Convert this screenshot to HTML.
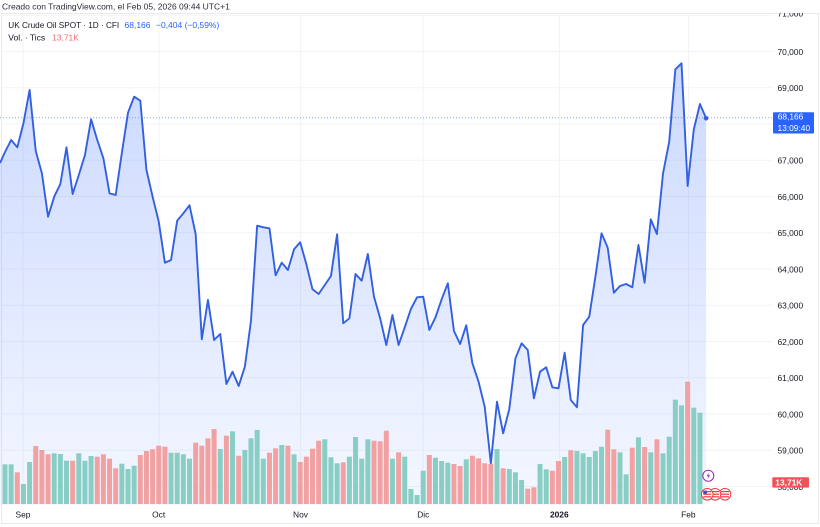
<!DOCTYPE html>
<html><head><meta charset="utf-8"><style>
html,body{margin:0;padding:0;background:#fff;}
svg{display:block;font-family:"Liberation Sans",Arial,sans-serif;}
</style></head><body>
<svg width="820" height="527" viewBox="0 0 820 527" xmlns="http://www.w3.org/2000/svg">
<defs>
<linearGradient id="ag" gradientUnits="userSpaceOnUse" x1="0" y1="63" x2="0" y2="505">
<stop offset="0" stop-color="#2962FF" stop-opacity="0.24"/>
<stop offset="1" stop-color="#2962FF" stop-opacity="0.05"/>
</linearGradient>
<clipPath id="cp"><rect x="0" y="13" width="820" height="511"/></clipPath>
</defs>
<rect width="820" height="527" fill="#fff"/>
<text x="2" y="9.3" font-size="8.5" fill="#2a2e39">Creado con TradingView.com, el Feb 05, 2026 09:44 UTC+1</text>
<rect x="1.5" y="13.5" width="817" height="510" fill="none" stroke="#e9ebf0" stroke-width="1"/>
<g clip-path="url(#cp)">
<g stroke="#f1f3f8" stroke-width="1">
<line x1="2" x2="772" y1="15.25" y2="15.25"/><line x1="2" x2="772" y1="51.5" y2="51.5"/>
<line x1="2" x2="772" y1="87.75" y2="87.75"/><line x1="2" x2="772" y1="124" y2="124"/>
<line x1="2" x2="772" y1="160.25" y2="160.25"/><line x1="2" x2="772" y1="196.5" y2="196.5"/>
<line x1="2" x2="772" y1="232.75" y2="232.75"/><line x1="2" x2="772" y1="269" y2="269"/>
<line x1="2" x2="772" y1="305.25" y2="305.25"/><line x1="2" x2="772" y1="341.5" y2="341.5"/>
<line x1="2" x2="772" y1="377.75" y2="377.75"/><line x1="2" x2="772" y1="414" y2="414"/>
<line x1="2" x2="772" y1="450.25" y2="450.25"/><line x1="2" x2="772" y1="486.5" y2="486.5"/>
<line x1="23" x2="23" y1="14" y2="505"/><line x1="159" x2="159" y1="14" y2="505"/>
<line x1="300.5" x2="300.5" y1="14" y2="505"/><line x1="423" x2="423" y1="14" y2="505"/>
<line x1="559.5" x2="559.5" y1="14" y2="505"/><line x1="688.5" x2="688.5" y1="14" y2="505"/>
</g>
<polygon fill="url(#ag)" points="0,163 5,152 11.15,140 17.3,147.3 23.45,123.3 29.6,90 35.75,151 41.9,173.3 48.05,216.7 54.2,196.7 60.35,184 66.5,147.3 72.65,194 78.8,175 84.95,155 91.1,119.3 97.25,140 103.4,158.3 109.55,193.3 115.7,195 121.85,153 128,112.7 134.15,96.7 140.3,100.7 146.45,170 152.6,196.7 158.75,221.7 164.9,262.7 171.05,260 177.2,220.7 183.35,213.3 189.5,205.3 195.65,234 201.8,339.3 207.95,300 214.1,340 220.25,334 226.4,384 232.55,371.7 238.7,386 244.85,366.7 251,320.7 257.15,225.7 263.3,227.3 269.45,228.3 275.6,275.3 281.75,262.7 287.9,270 294.05,249.3 300.2,242.3 306.35,264.3 312.5,289.3 318.65,294 324.8,285 330.95,276 337.1,234.3 343.25,323.3 349.4,318.3 355.55,274 361.7,280.7 367.85,254 374,296.7 380.15,318.3 386.3,345 392.45,315 398.6,345 404.75,327.3 410.9,309 417.05,297.3 423.2,296.7 429.35,330 435.5,317.3 441.65,299.3 447.8,283.3 453.95,331 460.1,344 466.25,325.3 472.4,363.3 478.55,381.7 484.7,406.7 490.85,463.3 497,401.7 503.15,433.3 509.3,409 515.45,358.3 521.6,343.3 527.75,350 533.9,398.3 540.05,371.7 546.2,367.3 552.35,387.3 558.5,388.3 564.65,352.7 570.8,400 576.95,407.3 583.1,325 589.25,316.7 595.4,276.7 601.55,233.3 607.7,247.7 613.85,292.7 620,286 626.15,284 632.3,287.3 638.45,245 644.6,282.7 650.75,219.3 656.9,234 663.05,173.3 669.2,141.7 675.35,69.3 681.5,63.3 687.65,186 693.8,129.3 699.95,104 706.1,118.3 706.1,505 0,505"/>
<g fill="#88cec5">
<rect x="2.5" y="464.3" width="5" height="39.7"/><rect x="8.65" y="464.3" width="5" height="39.7"/>
<rect x="20.95" y="484" width="5" height="20"/><rect x="27.1" y="462" width="5" height="42"/>
<rect x="51.7" y="453.3" width="5" height="50.7"/><rect x="57.85" y="454" width="5" height="50"/>
<rect x="64" y="460.7" width="5" height="43.3"/><rect x="76.3" y="453.3" width="5" height="50.7"/>
<rect x="82.45" y="460.7" width="5" height="43.3"/><rect x="88.6" y="456" width="5" height="48"/>
<rect x="119.35" y="463.7" width="5" height="40.3"/><rect x="125.5" y="469" width="5" height="35"/>
<rect x="131.65" y="465.7" width="5" height="38.3"/><rect x="168.55" y="452.7" width="5" height="51.3"/>
<rect x="174.7" y="452.7" width="5" height="51.3"/><rect x="180.85" y="454.3" width="5" height="49.7"/>
<rect x="187" y="458.7" width="5" height="45.3"/><rect x="217.75" y="449" width="5" height="55"/>
<rect x="230.05" y="431.3" width="5" height="72.7"/><rect x="242.35" y="450" width="5" height="54"/>
<rect x="248.5" y="438.3" width="5" height="65.7"/><rect x="254.65" y="430" width="5" height="74"/>
<rect x="260.8" y="458.7" width="5" height="45.3"/><rect x="279.25" y="445" width="5" height="59"/>
<rect x="291.55" y="454.3" width="5" height="49.7"/><rect x="322.3" y="439.3" width="5" height="64.7"/>
<rect x="328.45" y="457.3" width="5" height="46.7"/><rect x="334.6" y="463.3" width="5" height="40.7"/>
<rect x="346.9" y="456.7" width="5" height="47.3"/><rect x="353.05" y="437" width="5" height="67"/>
<rect x="359.2" y="458.7" width="5" height="45.3"/><rect x="365.35" y="439.3" width="5" height="64.7"/>
<rect x="389.95" y="458.7" width="5" height="45.3"/><rect x="402.25" y="456.7" width="5" height="47.3"/>
<rect x="408.4" y="489" width="5" height="15"/><rect x="414.55" y="495" width="5" height="9"/>
<rect x="420.7" y="470.7" width="5" height="33.3"/><rect x="433" y="457.7" width="5" height="46.3"/>
<rect x="439.15" y="461" width="5" height="43"/><rect x="445.3" y="462.7" width="5" height="41.3"/>
<rect x="463.75" y="459.3" width="5" height="44.7"/><rect x="494.5" y="449" width="5" height="55"/>
<rect x="506.8" y="469" width="5" height="35"/><rect x="512.95" y="472.3" width="5" height="31.7"/>
<rect x="519.1" y="480" width="5" height="24"/><rect x="537.55" y="464" width="5" height="40"/>
<rect x="543.7" y="469.3" width="5" height="34.7"/><rect x="562.15" y="457" width="5" height="47"/>
<rect x="574.45" y="451" width="5" height="53"/><rect x="580.6" y="453.3" width="5" height="50.7"/>
<rect x="586.75" y="457" width="5" height="47"/><rect x="592.9" y="451" width="5" height="53"/>
<rect x="599.05" y="446.7" width="5" height="57.3"/><rect x="617.5" y="452.3" width="5" height="51.7"/>
<rect x="623.65" y="474.3" width="5" height="29.7"/><rect x="635.95" y="437.3" width="5" height="66.7"/>
<rect x="648.25" y="452.3" width="5" height="51.7"/><rect x="660.55" y="453.3" width="5" height="50.7"/>
<rect x="666.7" y="436.7" width="5" height="67.3"/><rect x="672.85" y="399.7" width="5" height="104.3"/>
<rect x="679" y="405.3" width="5" height="98.7"/><rect x="691.3" y="407.7" width="5" height="96.3"/>
<rect x="697.45" y="412.7" width="5" height="91.3"/>
</g>
<g fill="#f2a1a3">
<rect x="14.8" y="472.3" width="5" height="31.7"/><rect x="33.25" y="446" width="5" height="58"/>
<rect x="39.4" y="450" width="5" height="54"/><rect x="45.55" y="454.3" width="5" height="49.7"/>
<rect x="70.15" y="460.7" width="5" height="43.3"/><rect x="94.75" y="456.7" width="5" height="47.3"/>
<rect x="100.9" y="454.3" width="5" height="49.7"/><rect x="107.05" y="458.7" width="5" height="45.3"/>
<rect x="113.2" y="468.3" width="5" height="35.7"/><rect x="137.8" y="455" width="5" height="49"/>
<rect x="143.95" y="451" width="5" height="53"/><rect x="150.1" y="449.3" width="5" height="54.7"/>
<rect x="156.25" y="445.7" width="5" height="58.3"/><rect x="162.4" y="446.7" width="5" height="57.3"/>
<rect x="193.15" y="442.7" width="5" height="61.3"/><rect x="199.3" y="445.7" width="5" height="58.3"/>
<rect x="205.45" y="438.3" width="5" height="65.7"/><rect x="211.6" y="429" width="5" height="75"/>
<rect x="223.9" y="435.7" width="5" height="68.3"/><rect x="236.2" y="455.7" width="5" height="48.3"/>
<rect x="266.95" y="452.7" width="5" height="51.3"/><rect x="273.1" y="448.3" width="5" height="55.7"/>
<rect x="285.4" y="445.7" width="5" height="58.3"/><rect x="297.7" y="462" width="5" height="42"/>
<rect x="303.85" y="456.7" width="5" height="47.3"/><rect x="310" y="448.7" width="5" height="55.3"/>
<rect x="316.15" y="440.7" width="5" height="63.3"/><rect x="340.75" y="462.3" width="5" height="41.7"/>
<rect x="371.5" y="440.7" width="5" height="63.3"/><rect x="377.65" y="441.3" width="5" height="62.7"/>
<rect x="383.8" y="430.7" width="5" height="73.3"/><rect x="396.1" y="452.3" width="5" height="51.7"/>
<rect x="426.85" y="455" width="5" height="49"/><rect x="451.45" y="464" width="5" height="40"/>
<rect x="457.6" y="466" width="5" height="38"/><rect x="469.9" y="455.7" width="5" height="48.3"/>
<rect x="476.05" y="458.3" width="5" height="45.7"/><rect x="482.2" y="463.3" width="5" height="40.7"/>
<rect x="488.35" y="464" width="5" height="40"/><rect x="500.65" y="468.3" width="5" height="35.7"/>
<rect x="525.25" y="488.7" width="5" height="15.3"/><rect x="531.4" y="487.3" width="5" height="16.7"/>
<rect x="549.85" y="470.7" width="5" height="33.3"/><rect x="556" y="461" width="5" height="43"/>
<rect x="568.3" y="450.3" width="5" height="53.7"/><rect x="605.2" y="429.7" width="5" height="74.3"/>
<rect x="611.35" y="449.3" width="5" height="54.7"/><rect x="629.8" y="447.7" width="5" height="56.3"/>
<rect x="642.1" y="447" width="5" height="57"/><rect x="654.4" y="439.3" width="5" height="64.7"/>
<rect x="685.15" y="381.7" width="5" height="122.3"/>
</g>
<line x1="0" x2="773" y1="117.8" y2="117.8" stroke="#2962FF" stroke-width="1" stroke-dasharray="1,2" opacity="0.55"/>
<polyline fill="none" stroke="#3360e3" stroke-width="1.9" stroke-linejoin="round" points="0,163 5,152 11.15,140 17.3,147.3 23.45,123.3 29.6,90 35.75,151 41.9,173.3 48.05,216.7 54.2,196.7 60.35,184 66.5,147.3 72.65,194 78.8,175 84.95,155 91.1,119.3 97.25,140 103.4,158.3 109.55,193.3 115.7,195 121.85,153 128,112.7 134.15,96.7 140.3,100.7 146.45,170 152.6,196.7 158.75,221.7 164.9,262.7 171.05,260 177.2,220.7 183.35,213.3 189.5,205.3 195.65,234 201.8,339.3 207.95,300 214.1,340 220.25,334 226.4,384 232.55,371.7 238.7,386 244.85,366.7 251,320.7 257.15,225.7 263.3,227.3 269.45,228.3 275.6,275.3 281.75,262.7 287.9,270 294.05,249.3 300.2,242.3 306.35,264.3 312.5,289.3 318.65,294 324.8,285 330.95,276 337.1,234.3 343.25,323.3 349.4,318.3 355.55,274 361.7,280.7 367.85,254 374,296.7 380.15,318.3 386.3,345 392.45,315 398.6,345 404.75,327.3 410.9,309 417.05,297.3 423.2,296.7 429.35,330 435.5,317.3 441.65,299.3 447.8,283.3 453.95,331 460.1,344 466.25,325.3 472.4,363.3 478.55,381.7 484.7,406.7 490.85,463.3 497,401.7 503.15,433.3 509.3,409 515.45,358.3 521.6,343.3 527.75,350 533.9,398.3 540.05,371.7 546.2,367.3 552.35,387.3 558.5,388.3 564.65,352.7 570.8,400 576.95,407.3 583.1,325 589.25,316.7 595.4,276.7 601.55,233.3 607.7,247.7 613.85,292.7 620,286 626.15,284 632.3,287.3 638.45,245 644.6,282.7 650.75,219.3 656.9,234 663.05,173.3 669.2,141.7 675.35,69.3 681.5,63.3 687.65,186 693.8,129.3 699.95,104 706.1,118.3"/>
<circle cx="706.1" cy="118.3" r="2.3" fill="#3360e3"/>
<g font-size="8.4" fill="#131722">
<text x="777.5" y="16.6">71,000</text>
<text x="777.5" y="54.8">70,000</text>
<text x="777.5" y="91">69,000</text>
<text x="777.5" y="163.5">67,000</text>
<text x="777.5" y="199.8">66,000</text>
<text x="777.5" y="236">65,000</text>
<text x="777.5" y="272.3">64,000</text>
<text x="777.5" y="308.5">63,000</text>
<text x="777.5" y="344.8">62,000</text>
<text x="777.5" y="381">61,000</text>
<text x="777.5" y="417.3">60,000</text>
<text x="777.5" y="453.5">59,000</text>
<text x="777.5" y="489.8">58,000</text>
</g>
</g>
<rect x="773" y="112.3" width="41" height="21.2" rx="1" fill="#2962FF"/>
<text x="777.7" y="119.6" font-size="8.4" fill="#fff">68,166</text>
<text x="777.5" y="130.8" font-size="8.4" fill="#fff">13:09:40</text>
<rect x="772.3" y="477.3" width="36.7" height="10.3" rx="1" fill="#f0525b"/>
<text x="775.3" y="485.6" font-size="8.4" font-weight="bold" fill="#fff">13,71K</text>
<text x="8.3" y="28" font-size="8.2" fill="#131722">UK Crude Oil SPOT · 1D · CFI</text>
<text x="124.5" y="28" font-size="8.5" fill="#2962FF">68,166</text>
<text x="156" y="28" font-size="8.5" fill="#2962FF">−0,404 (−0,59%)</text>
<text x="8.3" y="40.5" font-size="8.5" fill="#131722">Vol. · Tics</text>
<text x="52" y="40.5" font-size="8.5" fill="#ec6e74">13,71K</text>
<g font-size="8.4" fill="#131722" text-anchor="middle">
<text x="23" y="517.5">Sep</text>
<text x="158.7" y="517.5">Oct</text>
<text x="300.5" y="517.5">Nov</text>
<text x="423.3" y="517.5">Dic</text>
<text x="559.3" y="517.5" font-weight="bold">2026</text>
<text x="688.3" y="517.5">Feb</text>
</g>
<circle cx="708.3" cy="475.7" r="5.5" fill="#fff" stroke="#9c27b0" stroke-width="1"/>
<path d="M709.3,472.2 L706.6,476.2 L708.4,476.2 L707.4,479.3 L710.1,475.2 L708.3,475.2 Z" fill="#9c27b0"/>
<g>
<circle cx="725" cy="494.3" r="5.8" fill="#fff" stroke="#f23645" stroke-width="1"/>
<rect x="721" y="491" width="8" height="1.2" fill="#f23645"/><rect x="721" y="493.6" width="8" height="1.2" fill="#f23645"/><rect x="721" y="496.2" width="8" height="1.2" fill="#f23645"/>
<circle cx="715" cy="494.3" r="5.8" fill="#fff" stroke="#f23645" stroke-width="1"/>
<rect x="711" y="491" width="8" height="1.2" fill="#f23645"/><rect x="711" y="493.6" width="8" height="1.2" fill="#f23645"/><rect x="711" y="496.2" width="8" height="1.2" fill="#f23645"/>
<circle cx="707.3" cy="494.3" r="5.8" fill="#fff" stroke="#f23645" stroke-width="1"/>
<rect x="703.3" y="491" width="8" height="1.2" fill="#f23645"/><rect x="703.3" y="493.6" width="8" height="1.2" fill="#f23645"/><rect x="703.3" y="496.2" width="8" height="1.2" fill="#f23645"/>
<rect x="703.3" y="490.6" width="3.6" height="3.4" fill="#3f51b5"/>
</g>
</svg>
</body></html>
